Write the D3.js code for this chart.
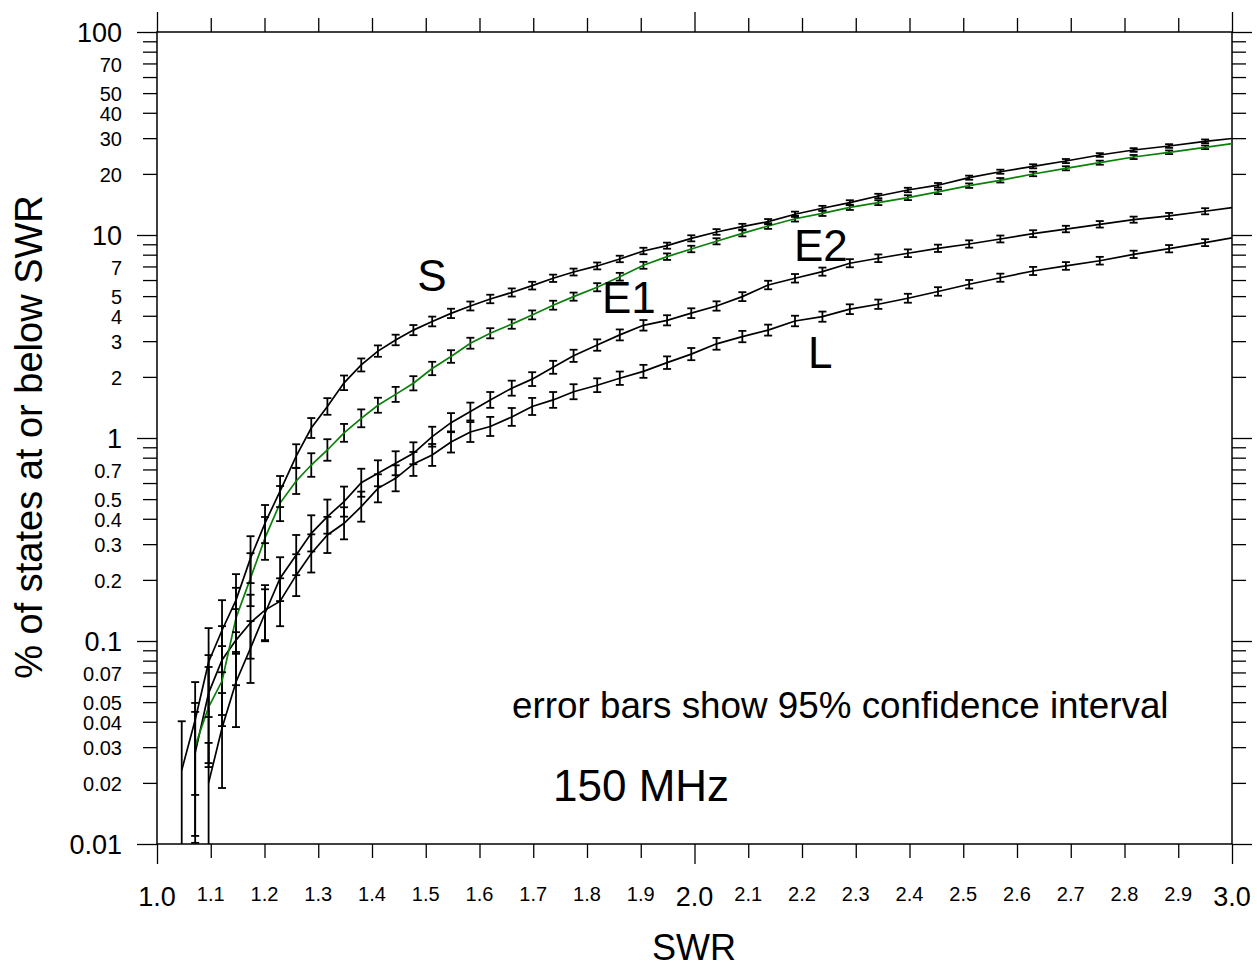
<!DOCTYPE html>
<html>
<head>
<meta charset="utf-8">
<script src="https://cdn.jsdelivr.net/npm/d3@7"></script>
<style>
  body { margin: 0; background: #fff; }
  svg { display: block; font-family: "Liberation Sans", Arial, sans-serif; }
</style>
</head>
<body>
<svg id="chart" width="1257" height="969"></svg>
<script>
// SWR values at which the curves were sampled
var swr = [1.046, 1.071, 1.096, 1.121, 1.147, 1.174, 1.201, 1.229, 1.259, 1.287, 1.317, 1.348, 1.380, 1.411, 1.444, 1.477,
  1.512, 1.547, 1.583, 1.620, 1.660, 1.698, 1.737, 1.775, 1.819, 1.861, 1.905, 1.949, 1.994, 2.041, 2.089, 2.137,
  2.187, 2.238, 2.289, 2.342, 2.397, 2.453, 2.511, 2.569, 2.630, 2.691, 2.754, 2.817, 2.883, 2.950, 3.000];

// % of states at or below SWR, one array per curve
var sPct = [0.0231, 0.0408, 0.0788, 0.113, 0.159, 0.256, 0.381, 0.548, 0.815, 1.12, 1.43, 1.87, 2.29, 2.68, 3.04, 3.40,
  3.75, 4.11, 4.47, 4.84, 5.21, 5.63, 6.12, 6.57, 7.04, 7.62, 8.34, 8.86, 9.63, 10.35, 10.99, 11.63,
  12.65, 13.54, 14.43, 15.56, 16.66, 17.59, 19.16, 20.5, 21.8, 23.14, 24.78, 26.23, 27.44, 28.95, 29.88];
var e1Pct = [null, 0.0304, 0.0473, 0.0635, 0.130, 0.204, 0.322, 0.478, 0.614, 0.736, 0.873, 1.06, 1.25, 1.45, 1.64, 1.86,
  2.20, 2.52, 2.93, 3.28, 3.64, 4.04, 4.51, 4.97, 5.53, 6.23, 7.09, 7.82, 8.53, 9.31, 10.19, 11.07,
  12.03, 12.79, 13.69, 14.43, 15.27, 16.32, 17.5, 18.6, 19.98, 21.31, 22.71, 24.22, 25.55, 27.04, 28.17];
var e2Pct = [null, null, 0.0200, 0.0373, 0.0628, 0.0923, 0.137, 0.204, 0.265, 0.339, 0.410, 0.486, 0.602, 0.670, 0.751, 0.841,
  1.015, 1.19, 1.35, 1.54, 1.76, 1.95, 2.23, 2.54, 2.87, 3.22, 3.59, 3.80, 4.12, 4.47, 4.97, 5.67,
  6.12, 6.60, 7.26, 7.68, 8.13, 8.60, 9.03, 9.56, 10.15, 10.7, 11.29, 11.9, 12.41, 13.09, 13.63];
var lPct = [null, 0.0281, 0.0554, 0.0806, 0.101, 0.123, 0.142, 0.157, 0.211, 0.270, 0.333, 0.380, 0.459, 0.565, 0.633, 0.745,
  0.825, 0.956, 1.07, 1.14, 1.27, 1.43, 1.54, 1.69, 1.82, 1.97, 2.13, 2.35, 2.59, 2.91, 3.16, 3.40,
  3.77, 3.96, 4.31, 4.56, 4.88, 5.27, 5.72, 6.16, 6.65, 7.04, 7.47, 8.03, 8.56, 9.17, 9.67];

// 95% confidence interval, upper and lower extent in decades (log10)
var sErrUp = [0.241, 0.187, 0.167, 0.148, 0.128, 0.108, 0.089, 0.074, 0.058, 0.049, 0.041, 0.036, 0.032, 0.028, 0.026, 0.025,
  0.024, 0.023, 0.022, 0.021, 0.020, 0.019, 0.018, 0.017, 0.017, 0.016, 0.016, 0.015, 0.015, 0.014, 0.014, 0.013,
  0.013, 0.012, 0.012, 0.011, 0.011, 0.011, 0.010, 0.010, 0.010, 0.010, 0.009, 0.009, 0.009, 0.009, null];
var sErrDn = [0.493, 0.369, 0.271, 0.207, 0.158, 0.123, 0.099, 0.079, 0.058, 0.049, 0.041, 0.036, 0.032, 0.028, 0.026, 0.025,
  0.024, 0.023, 0.022, 0.021, 0.020, 0.019, 0.018, 0.017, 0.017, 0.016, 0.016, 0.015, 0.015, 0.014, 0.014, 0.013,
  0.013, 0.012, 0.012, 0.011, 0.011, 0.011, 0.010, 0.010, 0.010, 0.010, 0.009, 0.009, 0.009, 0.009, null];
var e1ErrUp = [null, 0.212, 0.197, 0.172, 0.148, 0.123, 0.103, 0.084, 0.064, 0.058, 0.053, 0.044, 0.044, 0.037, 0.037, 0.035,
  0.033, 0.031, 0.027, 0.025, 0.023, 0.022, 0.022, 0.020, 0.020, 0.019, 0.017, 0.016, 0.016, 0.015, 0.015, 0.014,
  0.014, 0.013, 0.013, 0.012, 0.012, 0.011, 0.011, 0.011, 0.011, 0.010, 0.010, 0.010, 0.009, 0.009, null];
var e1ErrDn = [null, 0.443, 0.296, 0.222, 0.177, 0.138, 0.108, 0.089, 0.064, 0.058, 0.053, 0.044, 0.044, 0.037, 0.037, 0.035,
  0.033, 0.031, 0.027, 0.025, 0.023, 0.022, 0.022, 0.020, 0.020, 0.019, 0.017, 0.016, 0.016, 0.015, 0.015, 0.014,
  0.014, 0.013, 0.013, 0.012, 0.012, 0.011, 0.011, 0.011, 0.011, 0.010, 0.010, 0.010, 0.009, 0.009, null];
var e2ErrUp = [null, null, 0.197, 0.172, 0.148, 0.133, 0.118, 0.103, 0.099, 0.089, 0.084, 0.074, 0.069, 0.064, 0.059, 0.054,
  0.049, 0.047, 0.044, 0.039, 0.037, 0.034, 0.032, 0.030, 0.028, 0.027, 0.026, 0.025, 0.024, 0.023, 0.022, 0.021,
  0.021, 0.020, 0.020, 0.019, 0.019, 0.018, 0.018, 0.017, 0.017, 0.016, 0.016, 0.015, 0.015, 0.015, null];
var e2ErrDn = [null, null, 0.345, 0.296, 0.222, 0.172, 0.138, 0.113, 0.099, 0.089, 0.084, 0.074, 0.069, 0.064, 0.059, 0.054,
  0.049, 0.047, 0.044, 0.039, 0.037, 0.034, 0.032, 0.030, 0.028, 0.027, 0.026, 0.025, 0.024, 0.023, 0.022, 0.021,
  0.021, 0.020, 0.020, 0.019, 0.019, 0.018, 0.018, 0.017, 0.017, 0.016, 0.016, 0.015, 0.015, 0.015, null];
var lErrUp = [null, 0.202, 0.187, 0.167, 0.153, 0.138, 0.123, 0.113, 0.103, 0.094, 0.089, 0.079, 0.074, 0.069, 0.064, 0.059,
  0.054, 0.052, 0.049, 0.047, 0.044, 0.042, 0.039, 0.037, 0.034, 0.033, 0.032, 0.031, 0.030, 0.029, 0.028, 0.027,
  0.026, 0.025, 0.024, 0.023, 0.022, 0.021, 0.021, 0.020, 0.020, 0.019, 0.019, 0.018, 0.018, 0.017, null];
var lErrDn = [null, 0.443, 0.345, 0.271, 0.222, 0.177, 0.148, 0.123, 0.103, 0.094, 0.089, 0.079, 0.074, 0.069, 0.064, 0.059,
  0.054, 0.052, 0.049, 0.047, 0.044, 0.042, 0.039, 0.037, 0.034, 0.033, 0.032, 0.031, 0.030, 0.029, 0.028, 0.027,
  0.026, 0.025, 0.024, 0.023, 0.022, 0.021, 0.021, 0.020, 0.020, 0.019, 0.019, 0.018, 0.018, 0.017, null];

// axis ticks and labels
var xMajorTicks = [1.0, 2.0, 3.0];
var xMinorTicks = [1.1, 1.2, 1.3, 1.4, 1.5, 1.6, 1.7, 1.8, 1.9, 2.1, 2.2, 2.3, 2.4, 2.5, 2.6, 2.7, 2.8, 2.9];
var yMajorTicks = [0.01, 0.1, 1, 10, 100];
var yMajorLabels = ["0.01", "0.1", "1", "10", "100"];
var yMinorTicks = [0.02, 0.03, 0.04, 0.05, 0.06, 0.07, 0.08, 0.09, 0.2, 0.3, 0.4, 0.5, 0.6, 0.7, 0.8, 0.9,
  2, 3, 4, 5, 6, 7, 8, 9, 20, 30, 40, 50, 60, 70, 80, 90];
var yMinorLabelled = [0.02, 0.03, 0.04, 0.05, 0.07, 0.2, 0.3, 0.4, 0.5, 0.7, 2, 3, 4, 5, 7, 20, 30, 40, 50, 70];

var margin = {left: 157, top: 32},
    width = 1075, height = 812;

var svg = d3.select("#chart");
var g = svg.append("g").attr("transform", "translate(" + margin.left + "," + margin.top + ")");

var x = d3.scaleLinear().domain([1, 3]).range([0, width]);
var y = d3.scaleLog().domain([0.01, 100]).range([height, 0]);

svg.append("defs").append("clipPath").attr("id", "plotclip")
  .append("rect").attr("x", 0).attr("y", 0).attr("width", width).attr("height", height);

// ticks on all four sides, pointing outward
function tickAxis(axisFn, vals, size, transform) {
  var a = g.append("g").attr("transform", transform || null)
    .call(axisFn.tickValues(vals).tickSize(size).tickFormat(""));
  a.select(".domain").remove();
  a.selectAll(".tick line").attr("stroke", "#000").attr("stroke-width", 1.3);
}
tickAxis(d3.axisLeft(y), yMajorTicks, 20);
tickAxis(d3.axisLeft(y), yMinorTicks, 14);
tickAxis(d3.axisRight(y), yMajorTicks, 20, "translate(" + width + ",0)");
tickAxis(d3.axisRight(y), yMinorTicks, 14, "translate(" + width + ",0)");
tickAxis(d3.axisBottom(x), xMajorTicks, 20, "translate(0," + height + ")");
tickAxis(d3.axisBottom(x), xMinorTicks, 14, "translate(0," + height + ")");
tickAxis(d3.axisTop(x), xMajorTicks, 20);
tickAxis(d3.axisTop(x), xMinorTicks, 14);

g.append("rect").attr("width", width).attr("height", height)
  .attr("fill", "none").attr("stroke", "#000").attr("stroke-width", 1.5);

// y tick labels
g.selectAll(".ymaj").data(yMajorTicks).enter().append("text")
  .attr("x", -35).attr("y", function(d) { return y(d) + 3; })
  .attr("text-anchor", "end").attr("dominant-baseline", "middle")
  .attr("font-size", 27)
  .text(function(d, i) { return yMajorLabels[i]; });
g.selectAll(".ymin").data(yMinorLabelled).enter().append("text")
  .attr("x", -35).attr("y", function(d) { return y(d) + 3; })
  .attr("text-anchor", "end").attr("dominant-baseline", "middle")
  .attr("font-size", 20)
  .text(function(d) { return String(d); });

// x tick labels
g.selectAll(".xmaj").data(xMajorTicks).enter().append("text")
  .attr("x", function(d) { return x(d); }).attr("y", height + 62)
  .attr("text-anchor", "middle").attr("font-size", 27)
  .text(function(d) { return d.toFixed(1); });
g.selectAll(".xmin").data(xMinorTicks).enter().append("text")
  .attr("x", function(d) { return x(d); }).attr("y", height + 57)
  .attr("text-anchor", "middle").attr("font-size", 20)
  .text(function(d) { return d.toFixed(1); });

// axis titles
svg.append("text").attr("x", 694).attr("y", 960)
  .attr("text-anchor", "middle").attr("font-size", 36).text("SWR");
svg.append("text").attr("transform", "translate(42,437) rotate(-90)")
  .attr("text-anchor", "middle").attr("font-size", 38).text("% of states at or below SWR");

// curves
var series = [
  {name: "L", pct: lPct, up: lErrUp, dn: lErrDn, color: "#000"},
  {name: "E2", pct: e2Pct, up: e2ErrUp, dn: e2ErrDn, color: "#000"},
  {name: "E1", pct: e1Pct, up: e1ErrUp, dn: e1ErrDn, color: "#0a800a"},
  {name: "S", pct: sPct, up: sErrUp, dn: sErrDn, color: "#000"}
];

var plot = g.append("g").attr("clip-path", "url(#plotclip)");

var line = d3.line()
  .defined(function(d) { return d.v != null; })
  .x(function(d) { return x(d.swr); })
  .y(function(d) { return y(d.v); });

series.forEach(function(s) {
  var pts = swr.map(function(w, i) {
    return {swr: w, v: s.pct[i], up: s.up[i], dn: s.dn[i]};
  });
  var bars = pts.filter(function(d) { return d.v != null && d.up != null; });

  var eb = plot.append("g").attr("stroke", "#000").attr("stroke-width", 1.8);
  bars.forEach(function(d) {
    var px = x(d.swr),
        yHi = y(d.v * Math.pow(10, d.up)),
        yLo = y(d.v / Math.pow(10, d.dn));
    eb.append("line").attr("x1", px).attr("x2", px).attr("y1", yHi).attr("y2", yLo);
    eb.append("line").attr("x1", px - 4).attr("x2", px + 4).attr("y1", yHi).attr("y2", yHi);
    eb.append("line").attr("x1", px - 4).attr("x2", px + 4).attr("y1", yLo).attr("y2", yLo);
  });

  plot.append("path").datum(pts)
    .attr("fill", "none").attr("stroke", s.color).attr("stroke-width", 1.7)
    .attr("d", line);
});

// labels inside the plot
svg.append("text").attr("x", 432).attr("y", 291).attr("text-anchor", "middle").attr("font-size", 44).text("S");
svg.append("text").attr("x", 602).attr("y", 313).attr("font-size", 44).text("E1");
svg.append("text").attr("x", 794).attr("y", 261).attr("font-size", 44).text("E2");
svg.append("text").attr("x", 808).attr("y", 368).attr("font-size", 44).text("L");
svg.append("text").attr("x", 512).attr("y", 718).attr("font-size", 36.8).text("error bars show 95% confidence interval");
svg.append("text").attr("x", 553).attr("y", 801).attr("font-size", 44).text("150 MHz");
</script>
</body>
</html>
